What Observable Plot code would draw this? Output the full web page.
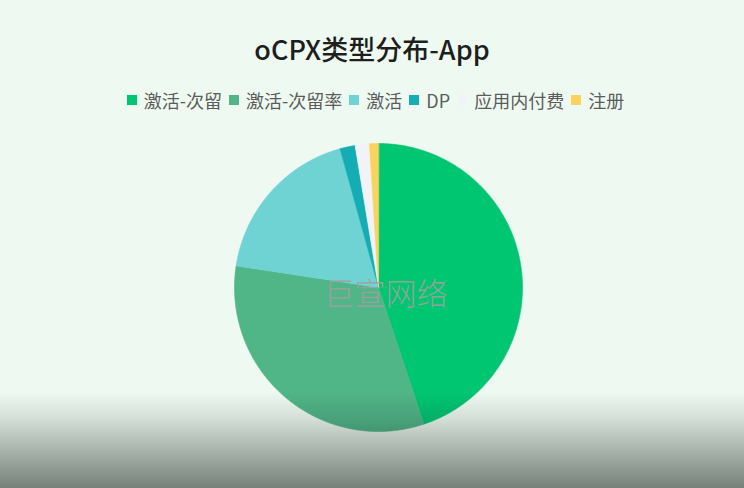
<!DOCTYPE html>
<html><head><meta charset="utf-8">
<script src="https://cdn.jsdelivr.net/npm/d3@7"></script>
<script src="https://cdn.jsdelivr.net/npm/@observablehq/plot@0.6"></script>
<style>
html,body{margin:0;padding:0;}
body{width:744px;height:488px;overflow:hidden;background:#eefaf1;position:relative;font-family:"Noto Sans CJK SC","Noto Sans",sans-serif;}
#title{position:absolute;left:0;top:33px;width:744px;text-align:center;font-size:27px;line-height:32px;font-weight:500;color:#1e1e1e;}
#legend{position:absolute;left:0;top:86px;width:730px;padding-left:14px;}
#chart{position:absolute;left:0;top:120px;}
#shade{position:absolute;left:0;top:0;width:744px;height:488px;pointer-events:none;background:linear-gradient(to bottom, rgba(20,30,25,0) 0px, rgba(20,30,25,0) 392px, rgba(20,30,25,0.13) 420px, rgba(20,30,25,0.32) 450px, rgba(20,30,25,0.55) 488px);}
.lg-swatches{justify-content:center !important;font-size:18px !important;font-family:"Noto Sans CJK SC","Noto Sans",sans-serif !important;color:#5c5c5c !important;margin:0 !important;min-height:28px !important;}
.lg-swatch{margin-right:7px !important;}
.lg-swatch > svg{margin-right:7px !important;}
</style>
</head><body>
<div id="title"></div>
<div id="legend"></div>
<div id="chart"></div>
<div id="shade"></div>
<script>
const titleText = "oCPX类型分布-App";
const categories = ["激活-次留","激活-次留率","激活","DP","应用内付费","注册"];
const shares = [44.9, 32.5, 18.3, 1.7, 1.6, 1.0];
const colors = ["#00c571","#50b587","#6fd3d3","#14adb3","#f1f3f6","#f8d35e"];
const watermark = ["巨宣网络"];

document.getElementById("title").textContent = titleText;

const arcs = d3.pie().sort(null).value(d => d)(shares);
const pts = [];
arcs.forEach((a, i) => {
  const name = categories[i];
  pts.push({name, x: 0, y: 0});
  const n = Math.max(2, Math.ceil((a.endAngle - a.startAngle) / 0.01));
  for (let k = 0; k <= n; k++) {
    const t = a.startAngle + (a.endAngle - a.startAngle) * k / n;
    pts.push({name, x: Math.sin(t), y: Math.cos(t)});
  }
});

const colorOpts = {type: "ordinal", domain: categories, range: colors};

const legend = Plot.legend({color: colorOpts, legend: "swatches", swatchSize: 10, className: "lg"});
document.getElementById("legend").appendChild(legend);

const chart = Plot.plot({
  width: 744, height: 340,
  marginLeft: 234, marginRight: 222, marginTop: 23, marginBottom: 29,
  x: {domain: [-1, 1], axis: null},
  y: {domain: [-1, 1], axis: null},
  color: colorOpts,
  style: {background: "none", overflow: "visible"},
  marks: [
    Plot.line(pts, {x: "x", y: "y", z: "name", fill: "name", stroke: "name", strokeWidth: 0.6, curve: "linear-closed"}),
    Plot.text(watermark, {text: d => d, frameAnchor: "middle", dx: 7, dy: 8, fontSize: 31, fill: "#a0a0a0", fillOpacity: 0.9, fontFamily: "Noto Sans CJK SC", fontWeight: 300})
  ]
});
document.getElementById("chart").appendChild(chart);
</script>
</body></html>
